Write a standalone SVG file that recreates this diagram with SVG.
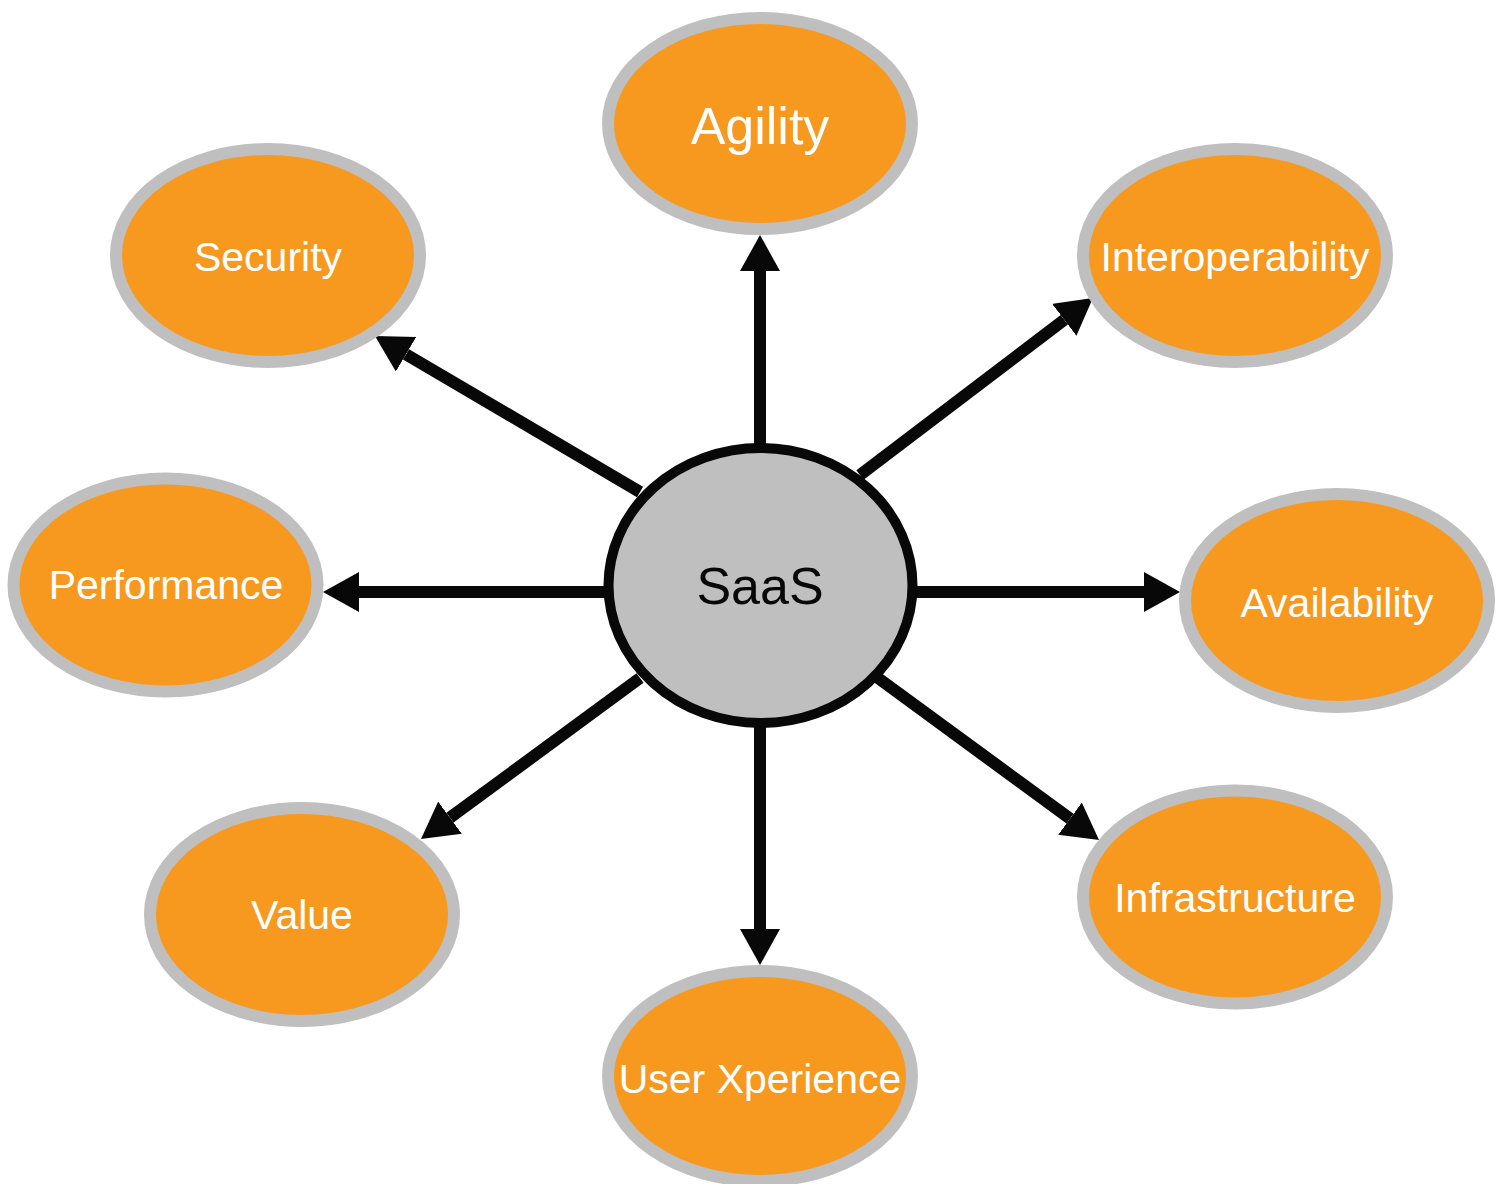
<svg xmlns="http://www.w3.org/2000/svg" width="1506" height="1184" viewBox="0 0 1506 1184">
<style>
.node ellipse{fill:#f7991f;stroke:#bfbfbf;stroke-width:12}
.node text{fill:#ffffff;font-family:"Liberation Sans",Arial,sans-serif;font-size:41px;text-anchor:middle}
.hub ellipse{fill:#bfbfbf;stroke:#080808;stroke-width:10}
.hub text{fill:#080808;font-family:"Liberation Sans",Arial,sans-serif;font-size:52px;text-anchor:middle}
.conn line{stroke:#080808;stroke-width:12;marker-end:url(#arr)}
</style>
<defs>
<marker id="arr" markerUnits="userSpaceOnUse" viewBox="0 0 36 40" refX="0" refY="20" markerWidth="36" markerHeight="40" orient="auto">
<path d="M0,0 L36,20 L0,40 Z" fill="#080808"/>
</marker>
</defs>
<rect width="1506" height="1184" fill="#ffffff"/>
<g id="connectors" class="conn">
<line x1="760" y1="446" x2="760" y2="271"/>
<line x1="760" y1="726" x2="760" y2="929"/>
<line x1="606" y1="592" x2="359" y2="592"/>
<line x1="914" y1="592" x2="1144" y2="592"/>
<line x1="640" y1="492" x2="406" y2="354.3"/>
<line x1="860" y1="475" x2="1064.3" y2="319.8"/>
<line x1="640" y1="678" x2="450" y2="817.7"/>
<line x1="878" y1="678" x2="1070" y2="818.7"/>
</g>
<g id="saas" class="hub">
<ellipse cx="760.5" cy="585.5" rx="152" ry="137.5"/>
<text x="760" y="604">SaaS</text>
</g>
<g id="agility" class="node">
<ellipse cx="760" cy="123.5" rx="152" ry="105.5"/>
<text x="760" y="144" style="font-size:52px">Agility</text>
</g>
<g id="security" class="node">
<ellipse cx="268" cy="255.5" rx="152" ry="106.5"/>
<text x="268" y="271">Security</text>
</g>
<g id="interoperability" class="node">
<ellipse cx="1235" cy="255.5" rx="152" ry="106.5"/>
<text x="1235" y="271">Interoperability</text>
</g>
<g id="performance" class="node">
<ellipse cx="165.5" cy="585" rx="152" ry="106.5"/>
<text x="166" y="599">Performance</text>
</g>
<g id="availability" class="node">
<ellipse cx="1337" cy="600.5" rx="152" ry="106.5"/>
<text x="1337" y="617">Availability</text>
</g>
<g id="value" class="node">
<ellipse cx="302" cy="914.5" rx="152" ry="106.5"/>
<text x="302" y="929">Value</text>
</g>
<g id="infrastructure" class="node">
<ellipse cx="1235" cy="897" rx="152" ry="106.5"/>
<text x="1235" y="912">Infrastructure</text>
</g>
<g id="user-xperience" class="node">
<ellipse cx="760" cy="1076" rx="152" ry="105"/>
<text x="760" y="1093">User Xperience</text>
</g>
</svg>
